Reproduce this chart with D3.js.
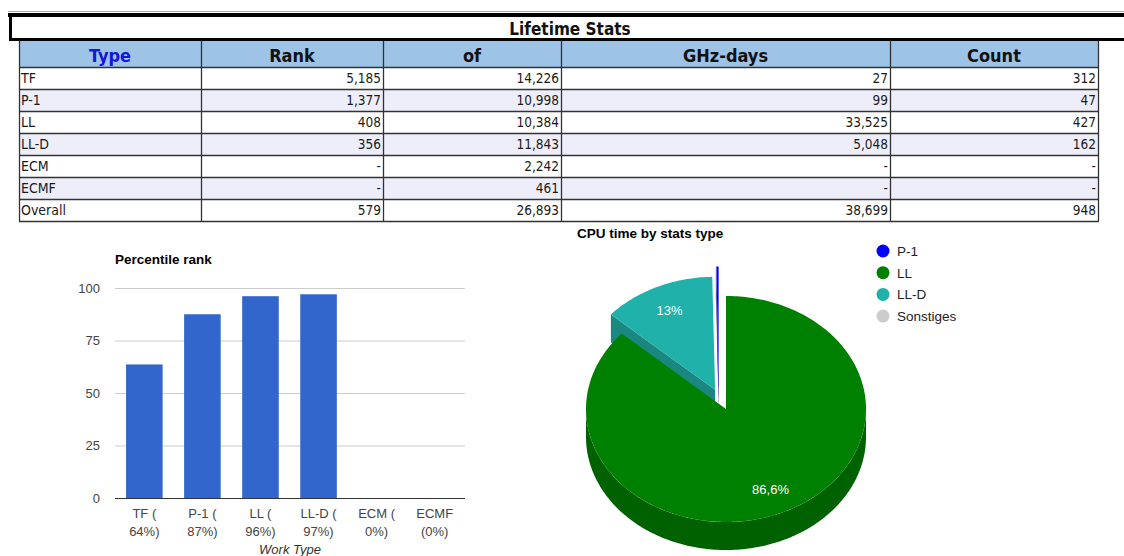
<!DOCTYPE html>
<html>
<head>
<meta charset="utf-8">
<script src="https://cdn.jsdelivr.net/npm/d3@7"></script>
<style>
  body { margin: 0; background: #fff; }
  svg { display: block; }
</style>
</head>
<body>
<div id="chart"></div>
<script>
// Lifetime Stats: table + percentile bars + 3D pie

// table data
const headers = ["Type", "Rank", "of", "GHz-days", "Count"];
const types = ["TF", "P-1", "LL", "LL-D", "ECM", "ECMF", "Overall"];
const ranks = [5185, 1377, 408, 356, null, null, 579];
const ofTotals = [14226, 10998, 10384, 11843, 2242, 461, 26893];
const ghzDays = [27, 99, 33525, 5048, null, null, 38699];
const counts = [312, 47, 427, 162, null, null, 948];

// bar chart data
const workTypes = ["TF", "P-1", "LL", "LL-D", "ECM", "ECMF"];
const percentile = [63.6, 87.5, 96.1, 97.0, 0, 0];
const percentLabels = [64, 87, 96, 97, 0, 0];
const yTicks = [0, 25, 50, 75, 100];

// pie data (CPU time)
const pieNames = ["P-1", "LL", "LL-D", "Sonstiges"];
const pieValues = [99, 33525, 5048, 27];

const W = 1124, H = 556;
const svg = d3.select("#chart").append("svg")
  .attr("width", W)
  .attr("height", H);

const tableFont = "'DejaVu Sans Condensed', 'DejaVu Sans', sans-serif";
const chartFont = "Arial, 'Liberation Sans', sans-serif";
const fmt = d3.format(",");

// ---------- title box ----------
svg.append("rect").attr("x", 8).attr("y", 11).attr("width", W).attr("height", 1).attr("fill", "#aaa");
svg.append("rect").attr("x", 8).attr("y", 13).attr("width", W).attr("height", 4).attr("fill", "#000");
svg.append("rect").attr("x", 9).attr("y", 13).attr("width", 3).attr("height", 28).attr("fill", "#000");
svg.append("rect").attr("x", 9).attr("y", 38).attr("width", W).attr("height", 3).attr("fill", "#000");
svg.append("text")
  .attr("x", 570).attr("y", 35)
  .attr("text-anchor", "middle")
  .attr("font-family", tableFont)
  .attr("font-size", "17px")
  .attr("font-weight", "bold")
  .attr("fill", "#111")
  .text("Lifetime Stats");

// ---------- table ----------
const colX = [19, 201, 383, 561, 890, 1098];
const headTop = 41, headH = 26, rowH = 22;
const tbl = svg.append("g");

tbl.append("rect")
  .attr("x", colX[0]).attr("y", headTop)
  .attr("width", colX[5] - colX[0]).attr("height", headH)
  .attr("fill", "#9dc3e6");

headers.forEach((h, j) => {
  tbl.append("text")
    .attr("x", (colX[j] + colX[j + 1]) / 2)
    .attr("y", headTop + 21)
    .attr("text-anchor", "middle")
    .attr("font-family", tableFont)
    .attr("font-size", "18px")
    .attr("font-weight", "bold")
    .attr("fill", j === 0 ? "#1515e0" : "#111")
    .text(h);
});

const rows = types.map((t, i) => [t, ranks[i], ofTotals[i], ghzDays[i], counts[i]]);
const bodyTop = headTop + headH;

rows.forEach((r, i) => {
  const y0 = bodyTop + i * rowH;
  tbl.append("rect")
    .attr("x", colX[0]).attr("y", y0)
    .attr("width", colX[5] - colX[0]).attr("height", rowH)
    .attr("fill", i % 2 === 1 ? "#eeeefb" : "#fff");
  r.forEach((v, j) => {
    const left = j === 0;
    tbl.append("text")
      .attr("x", left ? colX[j] + 2 : colX[j + 1] - 2)
      .attr("y", y0 + 16)
      .attr("text-anchor", left ? "start" : "end")
      .attr("font-family", tableFont)
      .attr("font-size", left ? "14px" : "13.5px")
      .attr("fill", "#1a1a1a")
      .text(left ? v : (v == null ? "-" : fmt(v)));
  });
});

// grid lines of table
const tableBottom = bodyTop + rows.length * rowH;
colX.forEach(x => {
  tbl.append("line")
    .attr("x1", x + 0.5).attr("x2", x + 0.5)
    .attr("y1", headTop).attr("y2", tableBottom)
    .attr("stroke", "#333").attr("stroke-width", 1.3);
});
d3.range(rows.length + 1).forEach(i => {
  const y = bodyTop + i * rowH;
  tbl.append("line")
    .attr("x1", colX[0]).attr("x2", colX[5] + 1)
    .attr("y1", y + 0.5).attr("y2", y + 0.5)
    .attr("stroke", "#333").attr("stroke-width", 1.3);
});

// ---------- bar chart ----------
const bar = svg.append("g");
const x = d3.scaleBand().domain(workTypes).range([115, 464]).paddingInner(0.37).paddingOuter(0.19);
const y = d3.scaleLinear().domain([0, 100]).range([498, 288]);

bar.append("text")
  .attr("x", 115).attr("y", 264)
  .attr("font-family", chartFont)
  .attr("font-size", "13.5px")
  .attr("font-weight", "bold")
  .attr("fill", "#000")
  .text("Percentile rank");

const yAxis = bar.append("g")
  .attr("transform", "translate(115,0)")
  .call(d3.axisLeft(y).tickValues(yTicks).tickSize(-350).tickPadding(15));
yAxis.select(".domain").remove();
yAxis.selectAll(".tick line").attr("stroke", d => d === 0 ? "#333" : "#ccc");
yAxis.selectAll(".tick text")
  .attr("font-family", chartFont)
  .attr("font-size", "13px")
  .attr("fill", "#444");

bar.selectAll(".bar")
  .data(workTypes)
  .enter()
  .append("rect")
  .attr("class", "bar")
  .attr("x", d => x(d))
  .attr("width", x.bandwidth())
  .attr("y", (d, i) => y(percentile[i]))
  .attr("height", (d, i) => y(0) - y(percentile[i]))
  .attr("fill", "#3366cc");

// baseline above bars
bar.append("line")
  .attr("x1", 115).attr("x2", 465)
  .attr("y1", y(0) + 0.5).attr("y2", y(0) + 0.5)
  .attr("stroke", "#333");

workTypes.forEach((t, i) => {
  const cx = x(t) + x.bandwidth() / 2;
  const lbl = bar.append("text")
    .attr("x", cx).attr("y", 518)
    .attr("text-anchor", "middle")
    .attr("font-family", chartFont)
    .attr("font-size", "13px")
    .attr("fill", "#444");
  // wrap like the chart does: keep "(" on first line when it fits
  let l1 = t + " (", l2 = percentLabels[i] + "%)";
  lbl.text(l1);
  if (lbl.node().getComputedTextLength() > 41) {
    l1 = t;
    l2 = "(" + percentLabels[i] + "%)";
  }
  lbl.text(null);
  lbl.append("tspan").attr("x", cx).text(l1);
  lbl.append("tspan").attr("x", cx).attr("dy", 18).text(l2);
});

bar.append("text")
  .attr("x", 290).attr("y", 554)
  .attr("text-anchor", "middle")
  .attr("font-family", chartFont)
  .attr("font-size", "13px")
  .attr("font-style", "italic")
  .attr("fill", "#333")
  .text("Work Type");

// ---------- 3D pie ----------
const pieG = svg.append("g");
pieG.append("text")
  .attr("x", 577).attr("y", 238)
  .attr("font-family", chartFont)
  .attr("font-size", "13.5px")
  .attr("font-weight", "bold")
  .attr("fill", "#000")
  .text("CPU time by stats type");

const pieColors = { "P-1": "#0000ff", "LL": "#008000", "LL-D": "#20b2aa", "Sonstiges": "#cccccc" };
const sideColors = { "P-1": "#0000b0", "LL": "#006100", "LL-D": "#1a8780", "Sonstiges": "#999" };
// slice offsets (exploded look) relative to the base centre
const base = [720.6, 399.4];
const shift = { "P-1": [-2, -20], "LL": [5.4, 9.6], "LL-D": [-5.5, -9.6], "Sonstiges": [-2, -20] };
const rx = 140, ry = 113, depth = 28;

const total = d3.sum(pieValues);
const pie = d3.pie().sort(null).value(d => d.v)
  .startAngle(-2 * Math.PI * pieValues[0] / total)
  .endAngle(2 * Math.PI - 2 * Math.PI * pieValues[0] / total);
const arcs = pie(pieNames.map((n, i) => ({ n, v: pieValues[i] })));

const pt = (c, a, r = 1, dz = 0) => [c[0] + rx * r * Math.sin(a), c[1] - ry * r * Math.cos(a) + dz];

function rimPoints(c, a0, a1, dz) {
  const n = Math.max(2, Math.ceil(Math.abs(a1 - a0) / 0.02));
  return d3.range(n + 1).map(k => pt(c, a0 + (a1 - a0) * k / n, 1, dz));
}

function topPath(c, a0, a1) {
  return "M" + [c, ...rimPoints(c, a0, a1, 0)].map(p => p.join(",")).join("L") + "Z";
}

function wallPath(c, a0, a1) {
  const lo = Math.max(a0, Math.PI / 2), hi = Math.min(a1, 3 * Math.PI / 2);
  if (hi <= lo) return null;
  const topPts = rimPoints(c, lo, hi, 0);
  const botPts = rimPoints(c, hi, lo, depth);
  return "M" + topPts.concat(botPts).map(p => p.join(",")).join("L") + "Z";
}

function radialPath(c, a) {
  const r = pt(c, a);
  const pts = [c, r, [r[0], r[1] + depth], [c[0], c[1] + depth]];
  return "M" + pts.map(p => p.join(",")).join("L") + "Z";
}

const drawOrder = ["LL-D", "Sonstiges", "P-1", "LL"];
drawOrder.forEach(name => {
  const d = arcs.find(a => a.data.n === name);
  const c = [base[0] + shift[name][0], base[1] + shift[name][1]];
  const g = pieG.append("g");
  if (Math.sin(d.startAngle) < -0.01) {
    g.append("path").attr("d", radialPath(c, d.startAngle)).attr("fill", sideColors[name]);
  }
  if (Math.sin(d.endAngle) > 0.01) {
    g.append("path").attr("d", radialPath(c, d.endAngle)).attr("fill", sideColors[name]);
  }
  const w = wallPath(c, d.startAngle, d.endAngle);
  if (w) g.append("path").attr("d", w).attr("fill", sideColors[name]);
  g.append("path").attr("d", topPath(c, d.startAngle, d.endAngle)).attr("fill", pieColors[name]);
});

// percent labels, German decimal comma
const deFmt = d3.formatLocale({ decimal: ",", thousands: ".", grouping: [3], currency: ["", "€"] }).format(".1f");
arcs.forEach(d => {
  const share = d.data.v / total * 100;
  if (share < 5) return;
  const name = d.data.n;
  const c = [base[0] + shift[name][0], base[1] + shift[name][1]];
  const p = pt(c, (d.startAngle + d.endAngle) / 2, 0.78);
  pieG.append("text")
    .attr("x", p[0]).attr("y", p[1] + 5)
    .attr("text-anchor", "middle")
    .attr("font-family", chartFont)
    .attr("font-size", "13px")
    .attr("fill", "#fff")
    .text(deFmt(share).replace(/,0$/, "") + "%");
});

// legend
pieNames.forEach((n, i) => {
  const ly = 251 + i * 21.7;
  pieG.append("circle")
    .attr("cx", 883).attr("cy", ly).attr("r", 6.5)
    .attr("fill", pieColors[n]);
  pieG.append("text")
    .attr("x", 897).attr("y", ly + 5)
    .attr("font-family", chartFont)
    .attr("font-size", "13.5px")
    .attr("fill", "#222")
    .text(n);
});
</script>
</body>
</html>
